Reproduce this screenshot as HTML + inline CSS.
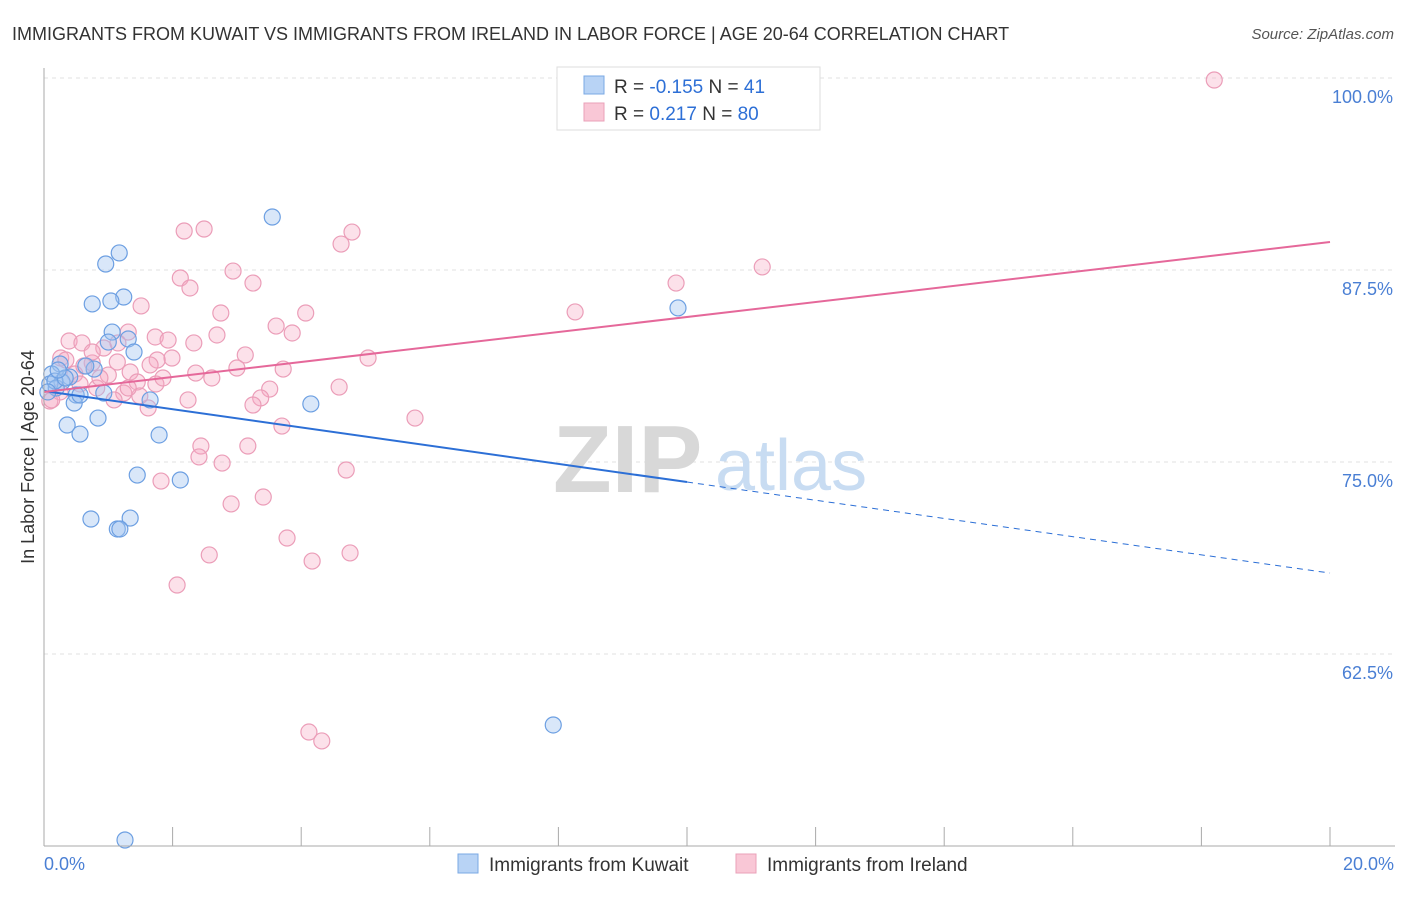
<!DOCTYPE html>
<html><head><meta charset="utf-8"><style>
body{margin:0;background:#fff;font-family:"Liberation Sans",sans-serif}
svg text{font-family:"Liberation Sans",sans-serif}
</style></head><body>
<svg id="chart" width="1406" height="892" xmlns="http://www.w3.org/2000/svg">
<text x="12" y="40" font-size="18" fill="#333">IMMIGRANTS FROM KUWAIT VS IMMIGRANTS FROM IRELAND IN LABOR FORCE | AGE 20-64 CORRELATION CHART</text>
<text x="1394" y="39" font-size="15" fill="#555" text-anchor="end" font-style="italic">Source: ZipAtlas.com</text>
<g id="grid"></g>
<g><text x="553" y="492" font-size="96" font-family="Liberation Serif" fill="#d8d8d8" font-weight="bold">ZIP</text><text x="715" y="490" font-size="72" fill="#c8dcf2">atlas</text></g>
<g id="pts"></g>
<g id="lines"></g>
<line x1="44" y1="68" x2="44" y2="846" stroke="#aaa"/>
<line x1="44" y1="846" x2="1395" y2="846" stroke="#aaa"/>
<g id="xt"></g>
<text x="44" y="870" font-size="18" fill="#4a7fd4">0.0%</text>
<text x="1394" y="870" font-size="18" fill="#4a7fd4" text-anchor="end">20.0%</text>
<text transform="translate(34,457) rotate(-90)" font-size="18" fill="#333" text-anchor="middle">In Labor Force | Age 20-64</text>
<g>
<rect x="557" y="67" width="263" height="63" fill="#fff" stroke="#ddd"/>
<rect x="584" y="76" width="20" height="18" fill="#b8d3f5" stroke="#7aa8e4"/>
<rect x="584" y="103" width="20" height="18" fill="#f9c7d6" stroke="#eaa0b8"/>
<text x="614" y="93" font-size="19" fill="#333">R = <tspan fill="#2d6fd6">-0.155</tspan>   N = <tspan fill="#2d6fd6"> 41</tspan></text>
<text x="614" y="120" font-size="19" fill="#333">R = <tspan fill="#2d6fd6">  0.217</tspan>   N = <tspan fill="#2d6fd6">80</tspan></text>
</g>
<g>
<rect x="458" y="854" width="20" height="19" fill="#b8d3f5" stroke="#7aa8e4"/>
<text x="489" y="871" font-size="19" fill="#333">Immigrants from Kuwait</text>
<rect x="736" y="854" width="20" height="19" fill="#f9c7d6" stroke="#eaa0b8"/>
<text x="767" y="871" font-size="19" fill="#333">Immigrants from Ireland</text>
</g>
</svg>
<script>
const yTicks=[100,87.5,75,62.5];
const yTickLabels=["100.0%","87.5%","75.0%","62.5%"];
const xTicks=[0,2,4,6,8,10,12,14,16,18,20];
const kuwaitX=[3.55,1.17,0.96,1.24,0.75,1.04,1.06,1.31,1.00,1.40,0.25,0.78,0.65,0.12,0.40,0.28,0.09,0.19,0.50,0.93,1.65,0.47,0.36,0.84,0.56,1.79,4.15,1.45,2.12,0.73,1.34,1.14,1.18,7.92,1.26,9.86,0.17,0.33,0.06,0.22,0.56];
const kuwaitY=[90.95,88.61,87.89,85.74,85.29,85.48,83.46,83.01,82.81,82.16,81.38,81.05,81.25,80.73,80.53,80.21,80.08,79.82,79.36,79.49,79.04,78.84,77.41,77.86,76.82,76.76,78.78,74.15,73.83,71.29,71.35,70.64,70.64,57.88,50.39,85.03,80.27,80.47,79.56,80.99,79.36];
const irelandX=[18.20,2.18,2.49,4.79,4.62,2.94,2.12,3.25,2.27,1.51,2.75,4.07,8.26,9.83,11.17,3.61,3.86,2.69,1.31,1.73,1.93,0.39,0.59,2.33,0.93,3.13,5.04,0.26,1.99,1.76,1.14,0.75,3.00,3.72,1.34,0.48,2.61,1.45,1.74,0.82,3.51,4.59,1.24,3.37,2.24,1.09,1.62,3.25,0.09,5.77,3.70,2.44,3.17,2.41,2.77,4.70,1.82,3.41,2.91,3.78,2.57,4.76,4.17,2.07,4.12,4.32,0.56,0.25,0.75,1.00,0.62,1.49,0.12,0.34,0.87,1.65,1.85,1.15,2.36,1.31];
const irelandY=[99.87,90.04,90.17,89.97,89.19,87.43,86.98,86.65,86.33,85.16,84.70,84.70,84.77,86.65,87.70,83.85,83.40,83.27,83.46,83.14,82.94,82.88,82.75,82.75,82.42,81.97,81.77,81.77,81.77,81.64,81.51,81.45,81.12,81.05,80.86,80.73,80.47,80.21,80.08,79.82,79.75,79.88,79.49,79.17,79.04,79.04,78.52,78.71,78.97,77.86,77.34,76.04,76.04,75.33,74.93,74.48,73.76,72.72,72.27,70.05,68.95,69.08,68.55,66.99,57.42,56.84,80.08,79.56,82.16,80.66,81.25,79.30,79.04,81.64,80.47,81.32,80.47,82.75,80.79,79.82];
const trendIntercepts=[79.62,79.56];
const trendSlopes=[-0.5925,0.488];
const NS="http://www.w3.org/2000/svg";
const X=v=>44+v*64.3, Y=v=>78+(100-v)*15.36;
function mk(t,a,p){const e=document.createElementNS(NS,t);for(const k in a)e.setAttribute(k,a[k]);p.appendChild(e);return e;}
const grid=document.getElementById('grid');
yTicks.forEach((t,i)=>{
 const l=mk('line',{x1:44,x2:1395,y1:Y(t),y2:Y(t),stroke:'#e2e2e2','stroke-dasharray':'4,4'},grid);
 
 
 const tx=mk('text',{x:1393,y:Y(t)+25,'font-size':18,fill:'#4a7fd4','text-anchor':'end'},grid);
 tx.textContent=yTickLabels[i];
 
 
});
const xt=document.getElementById('xt');
xTicks.forEach(t=>{
 const l=mk('line',{x1:X(t),x2:X(t),y1:827,y2:846,stroke:'#aaa'},xt);
 
 
});
const pts=document.getElementById('pts');
irelandX.forEach((x,i)=>{
 const c=mk('circle',{cx:X(x),cy:Y(irelandY[i]),r:8,fill:'rgba(246,170,195,0.35)',stroke:'#eb9db8','stroke-width':1.2},pts);
 
 
});
kuwaitX.forEach((x,i)=>{
 const c=mk('circle',{cx:X(x),cy:Y(kuwaitY[i]),r:8,fill:'rgba(160,195,240,0.4)',stroke:'#6c9fe2','stroke-width':1.2},pts);
 
 
});
const lines=document.getElementById('lines');
const f=(k,x)=>trendIntercepts[k]+trendSlopes[k]*x;
let a=mk('line',{x1:X(0),y1:Y(f(0,0)),x2:X(10),y2:Y(f(0,10)),stroke:'#2c6fd6','stroke-width':2},lines);


a=mk('line',{x1:X(10),y1:Y(f(0,10)),x2:X(20),y2:Y(f(0,20)),stroke:'#2c6fd6','stroke-width':1,'stroke-dasharray':'6,5'},lines);


a=mk('line',{x1:X(0),y1:Y(f(1,0)),x2:X(20),y2:Y(f(1,20)),stroke:'#e5689a','stroke-width':2},lines);


</script>
</body></html>
